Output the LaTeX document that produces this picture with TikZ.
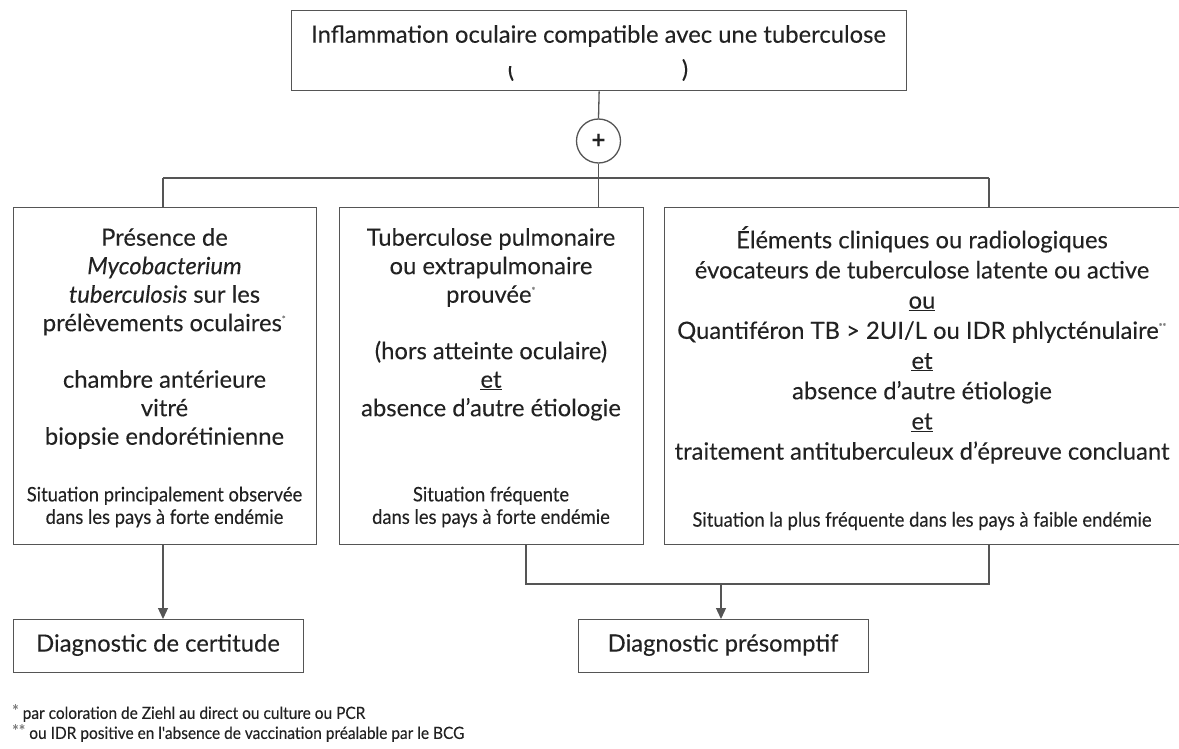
\documentclass[tikz,border=0pt]{standalone}
\usepackage{fontspec}
\setmainfont{Lato}[FakeBold=0.15]
\newfontfamily\narrowfont{Lato}[FakeStretch=0.92,FakeBold=0.15]
\usetikzlibrary{arrows.meta,calc}
\definecolor{ink}{HTML}{222222}
\definecolor{rule}{HTML}{555555}
\newcommand{\fn}[1]{\textsuperscript{\color{gray}\fontsize{9}{9}\selectfont #1}}
\begin{document}
\begin{tikzpicture}[x=1pt,y=-1pt,
  every node/.style={text=ink, inner sep=0pt},
  box/.style={draw=rule, line width=1.3pt, anchor=north west},
  maintext/.style={font=\fontsize{23.8}{28.5}\selectfont, align=center, anchor=north},
  righttext/.style={font=\fontsize{23.8}{30.2}\selectfont, align=center, anchor=north},
  smalltext/.style={font=\narrowfont\fontsize{20}{22.5}\selectfont, align=center},
  line/.style={draw=rule, line width=1.3pt},
  arrowline/.style={line, -{Triangle[width=10pt,length=11pt]}},
]
\useasboundingbox (0,0) rectangle (1179,749);

% top box
\node[box, minimum width=615pt, minimum height=80pt] (top) at (291,10) {};
\node[font=\fontsize{23.8}{28}\selectfont] (toptxt) at (598.5,36) {Inflammation oculaire compatible avec une tuberculose};
\begin{scope}
  \clip (500,67) rectangle (520,85);
  \node[font=\fontsize{23.8}{28}\selectfont] (lpar) at (511,70) {(};
\end{scope}
\node[font=\fontsize{23.8}{28}\selectfont] (rpar) at (685,70) {)};

% junction circle
\node[draw=rule, line width=1.3pt, circle, minimum size=44pt, font=\bfseries\fontsize{24}{24}\selectfont] (plus) at (598.5,141) {+};

% three boxes
\node[box, minimum width=303pt, minimum height=337pt] (lbox) at (13,207) {};
\node[box, minimum width=304pt, minimum height=337pt] (mbox) at (339,207) {};
\node[box, minimum width=520pt, minimum height=337pt] (rbox) at (664,207) {};

\node[maintext] (ltxt) at (164.5,228) {Présence de\\\textit{Mycobacterium}\\\textit{tuberculosis} sur les\\prélèvements oculaires\fn{*}\\[28pt]chambre antérieure\\vitré\\biopsie endorétinienne};
\node[smalltext] (lsm) at (164.5,507) {Situation principalement observée\\dans les pays à forte endémie};

\node[maintext] (mtxt) at (491,228) {Tuberculose pulmonaire\\ou extrapulmonaire\\prouvée\fn{*}\\[28pt](hors atteinte oculaire)\\\underline{et}\\absence d'autre étiologie};
\node[smalltext] (msm) at (491,507) {Situation fréquente\\dans les pays à forte endémie};

\node[righttext] (rtxt) at (922,226) {Éléments cliniques ou radiologiques\\évocateurs de tuberculose latente ou active\\\underline{ou}\\Quantiféron TB > 2UI/L ou IDR phlycténulaire\fn{**}\\\underline{et}\\absence d'autre étiologie\\\underline{et}\\traitement antituberculeux d'épreuve concluant};
\node[smalltext] (rsm) at (922,521) {Situation la plus fréquente dans les pays à faible endémie};

% conclusions
\node[box, minimum width=290pt, minimum height=53pt] (dcert) at (13,619) {};
\node[font=\fontsize{23.8}{28}\selectfont] (dcerttxt) at (158,645) {Diagnostic de certitude};
\node[box, minimum width=290pt, minimum height=53pt] (dpres) at (578,619) {};
\node[font=\fontsize{23.8}{28}\selectfont] (dprestxt) at (723,645) {Diagnostic présomptif};

% connectors
\coordinate (bus) at (598.5,178);
\coordinate (busl) at (163,178);
\coordinate (busr) at (989,178);
\draw[line] (top.south) -- (plus.north);
\draw[line] (plus.south) -- (bus);
\draw[line] (busl) -- (busr);
\draw[line] (busl) -- (lbox.north -| busl);
\draw[line] (bus) -- (mbox.north -| bus);
\draw[line] (busr) -- (rbox.north -| busr);

\draw[arrowline] (lbox.south -| busl) -- (dcert.north -| busl);

\coordinate (joinl) at (526,584);
\coordinate (joinr) at (989,584);
\coordinate (joinm) at (721,584);
\draw[line] (mbox.south -| joinl) -- (joinl) -- (joinr) -- (rbox.south -| joinr);
\draw[arrowline] (joinm) -- (dpres.north -| joinm);

% footnotes
\node[font=\narrowfont\fontsize{16.8}{20}\selectfont, anchor=west] (fn1) at (12,713) {\raisebox{2pt}{\color{gray}*} par coloration de Ziehl au direct ou culture ou PCR};
\node[font=\narrowfont\fontsize{16.8}{20}\selectfont, anchor=west] (fn2) at (12,733) {\raisebox{2pt}{\color{gray}**} ou IDR positive en l'absence de vaccination préalable par le BCG};
\end{tikzpicture}
\end{document}
